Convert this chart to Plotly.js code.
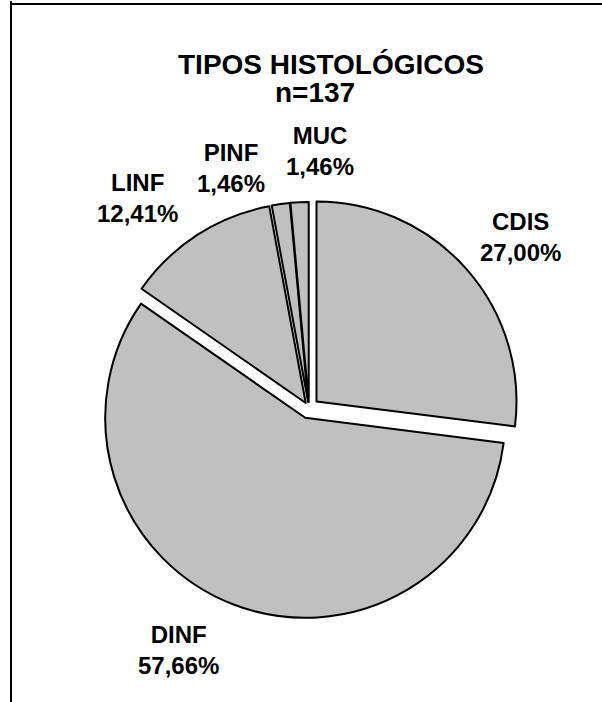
<!DOCTYPE html>
<html><head><meta charset="utf-8">
<script src="https://cdn.plot.ly/plotly-3.0.1.min.js"></script>
<style>html,body{margin:0;padding:0;background:#fff;overflow:hidden}</style>
</head><body><div id="chart" style="width:602px;height:702px"></div>
<script>
// ---- data ----
const categories = ['CDIS', 'DINF', 'LINF', 'PINF', 'MUC'];
const percents = [27.00, 57.66, 12.41, 1.46, 1.46];
const titleLines = ['TIPOS HISTOLÓGICOS', 'n=137'];

// ---- layout helpers (pixels -> paper) ----
const W = 602, H = 702;
const px = x => x / W;
const py = y => 1 - y / H;

const pulls = [0.05, 0.0525, 0.03, 0.03, 0.03];
const pieCx = 309, pieCy = 408, pieR = 200;
const half = pieR * (1 + Math.max(...pulls));

// label centres (pixels)
const labelPos = [[520, 237], [178, 650], [137, 198], [231, 168], [320, 151]];

const fmt = v => v.toFixed(2).replace('.', ',') + '%';
const labelFont = {family: 'Liberation Sans, Arial, sans-serif', size: 24, color: '#000', weight: 'bold'};
const titleFont = {family: 'Liberation Sans, Arial, sans-serif', size: 28, color: '#000', weight: 'bold'};

const annotations = categories.map((c, i) => ({
  xref: 'paper', yref: 'paper', x: px(labelPos[i][0]), y: py(labelPos[i][1]),
  xanchor: 'center', yanchor: 'middle', showarrow: false, align: 'center',
  text: c + '<br>' + fmt(percents[i]), font: labelFont
}));
annotations.push({xref: 'paper', yref: 'paper', x: px(331), y: py(64), xanchor: 'center', yanchor: 'middle',
  showarrow: false, text: titleLines[0], font: titleFont});
annotations.push({xref: 'paper', yref: 'paper', x: px(315), y: py(92), xanchor: 'center', yanchor: 'middle',
  showarrow: false, text: titleLines[1], font: titleFont});

const trace = {
  type: 'pie',
  labels: categories,
  values: percents,
  sort: false,
  direction: 'clockwise',
  rotation: 0,
  pull: pulls,
  textinfo: 'none',
  hoverinfo: 'skip',
  showlegend: false,
  marker: {colors: categories.map(() => '#c0c0c0'), line: {color: '#000', width: 2}},
  domain: {x: [px(pieCx - half), px(pieCx + half)], y: [py(pieCy + half), py(pieCy - half)]}
};

const layout = {
  width: W, height: H,
  margin: {l: 0, r: 0, t: 0, b: 0},
  paper_bgcolor: '#fff',
  showlegend: false,
  annotations: annotations,
  shapes: [
    {type: 'line', xref: 'paper', yref: 'paper', x0: px(11), x1: 1, y0: py(4), y1: py(4), line: {color: '#000', width: 2}},
    {type: 'line', xref: 'paper', yref: 'paper', x0: px(11), x1: px(11), y0: py(1), y1: 0, line: {color: '#000', width: 2}}
  ]
};

Plotly.newPlot('chart', [trace], layout, {displayModeBar: false, staticPlot: true});
</script>
</body></html>
